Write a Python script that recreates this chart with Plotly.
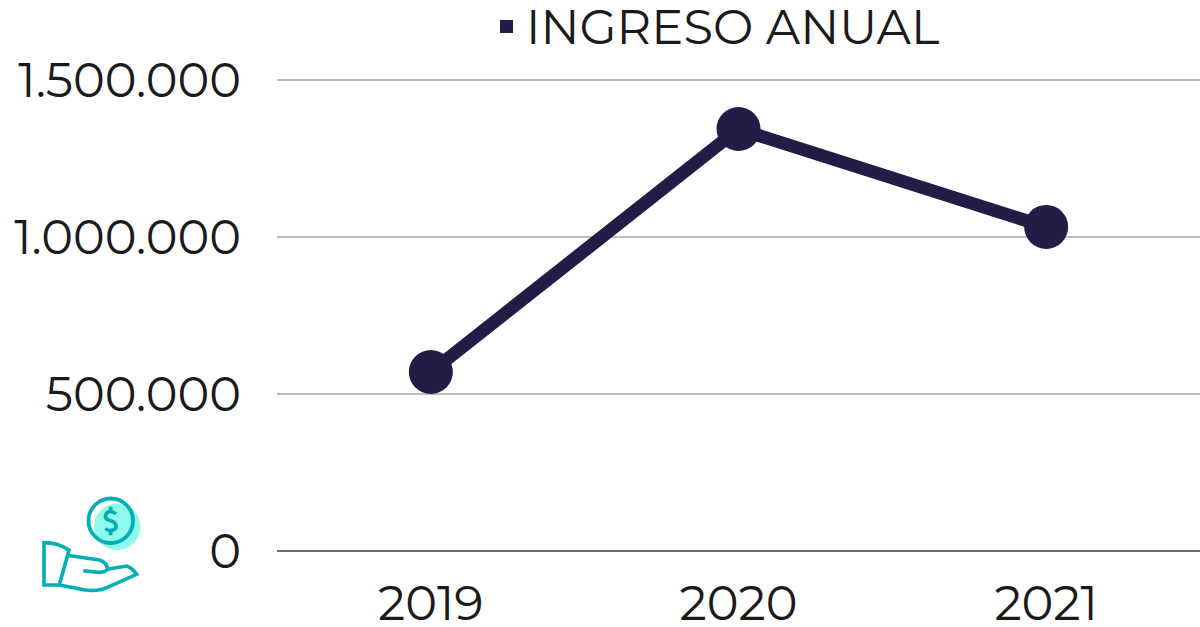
import plotly.graph_objects as go

years = ["2019", "2020", "2021"]
income = [570000, 1344000, 1032000]
y_ticks = [0, 500000, 1000000, 1500000]
y_labels = ["0", "500.000", "1.000.000", "1.500.000"]
series_name = "INGRESO ANUAL"
NAVY = "#231C47"
TEAL = "#00AEB3"
INK = "#1A1A1A"
FONT = "Montserrat, Inter, 'Open Sans', sans-serif"
FS = 48

W, H = 1200, 627
L = 277


def X(p):
    return (p - L) / (W - L)


def Y(p):
    return (H - p) / H


fig = go.Figure(go.Scatter(x=years, y=income, mode="lines+markers",
                           line=dict(color=NAVY, width=13),
                           marker=dict(color=NAVY, size=44), showlegend=False, cliponaxis=False))

top_value = 1500000 + 10 / 157 * 500000
fig.update_layout(
    width=W, height=H, margin=dict(l=L, r=0, t=0, b=0),
    paper_bgcolor="white", plot_bgcolor="white",
    font=dict(family=FONT, size=FS, color=INK),
    xaxis=dict(domain=[0, 1], type="category", range=[-0.5, 2.5], showgrid=False, showline=False,
               ticks="", ticklabelstandoff=20, tickfont=dict(size=FS), automargin=False),
    yaxis=dict(domain=[Y(551), Y(70)], range=[0, top_value], tickvals=y_ticks, ticktext=y_labels,
               gridcolor="#BDBDBD", gridwidth=1.5, zeroline=True, zerolinecolor="#6E6E6E",
               zerolinewidth=1.5, showline=False, ticks="", ticklabelstandoff=35,
               tickfont=dict(size=FS), automargin=False),
)

fig.add_annotation(xref="paper", yref="paper", x=X(732), y=Y(27), yanchor="middle",
                   text=series_name, showarrow=False, font=dict(size=FS, color=INK))
fig.add_shape(type="rect", xref="paper", yref="paper", x0=X(500), x1=X(513), y0=Y(33), y1=Y(20),
              fillcolor=NAVY, line_width=0)


def Z(a, b):
    return f"{X(20 + a / 3):.5f} {Y(480 + b / 3):.5f}"


def add_path(d, fill=None):
    fig.add_shape(type="path", xref="paper", yref="paper", path=d,
                  line=dict(color=TEAL, width=3.6), fillcolor=fill)


fig.add_shape(type="circle", xref="paper", yref="paper", x0=X(94), x1=X(140.5), y0=Y(550), y1=Y(503.5),
              fillcolor="#8FFBEA", line_width=0)
fig.add_shape(type="circle", xref="paper", yref="paper", x0=X(88.5), x1=X(133), y0=Y(543), y1=Y(498.5),
              line=dict(color=TEAL, width=3.8))
# dollar sign
add_path(f"M {Z(288, 102)} Q {Z(272, 88)} {Z(259, 100)} Q {Z(250, 118)} {Z(272, 122)} "
         f"Q {Z(292, 128)} {Z(287, 145)} Q {Z(272, 158)} {Z(256, 146)}")
add_path(f"M {Z(272, 80)} L {Z(272, 90)}")
add_path(f"M {Z(272, 155)} L {Z(272, 166)}")
# cuff
add_path(f"M {Z(72, 188)} Q {Z(115, 188)} {Z(147, 211)} L {Z(118, 315)} L {Z(72, 315)} Z")
# hand
add_path(f"M {Z(142, 226)} L {Z(238, 240)} Q {Z(262, 248)} {Z(262, 268)} Q {Z(255, 278)} {Z(235, 277)} L {Z(190, 272)}")
add_path(f"M {Z(262, 268)} L {Z(320, 258)} Q {Z(335, 262)} {Z(350, 283)} L {Z(262, 322)} "
         f"Q {Z(235, 335)} {Z(195, 330)} L {Z(118, 315)}")

fig.write_html("out.html", default_width="1200px", default_height="627px",
               config=dict(displayModeBar=False),
               post_script="document.body.style.margin='0';document.body.style.overflow='hidden';")
